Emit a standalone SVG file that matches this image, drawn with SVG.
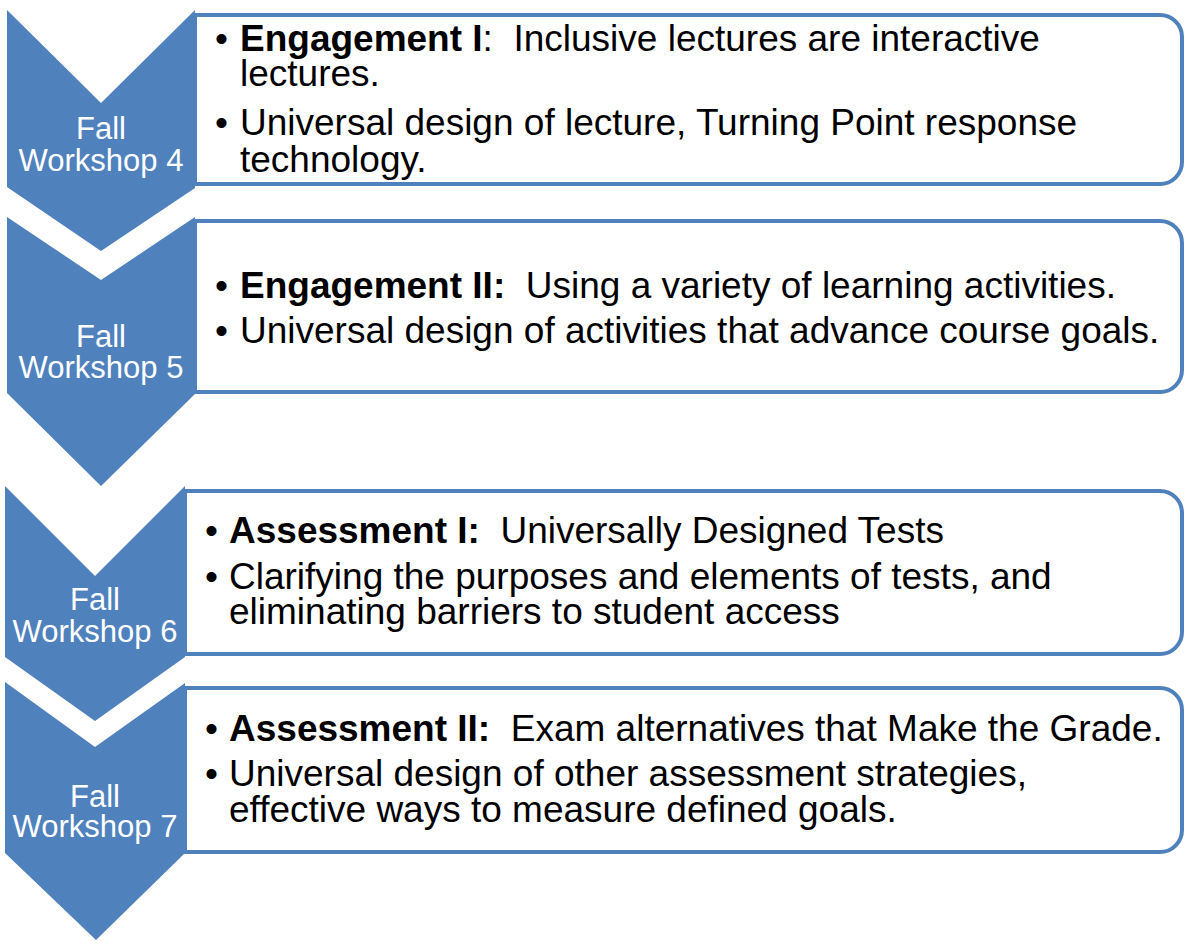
<svg xmlns="http://www.w3.org/2000/svg" width="1184" height="942" viewBox="0 0 1184 942">
<style>
.box{fill:#FFFFFF;stroke:#4F81BD;stroke-width:4}
.chev{fill:#4F81BD;stroke:none}
.lbl{font-family:"Liberation Sans",Arial,sans-serif;font-size:31px;fill:#FFFFFF;text-anchor:middle}
.txt{font-family:"Liberation Sans",Arial,sans-serif;font-size:37px;fill:#000000}
.b{font-weight:bold}
</style>
<rect width="1184" height="942" fill="#FFFFFF"/>
<g id="box1">
<path class="box" d="M195,15 H1160 A22,22 0 0 1 1182,37 V162 A22,22 0 0 1 1160,184 H195 Z"/>
<text class="txt" x="215" y="51" xml:space="preserve">•</text>
<text class="txt" x="240" y="51" xml:space="preserve"><tspan class="b">Engagement I</tspan>:  Inclusive lectures are interactive</text>
<text class="txt" x="240" y="86">lectures.</text>
<text class="txt" x="215" y="135">•</text>
<text class="txt" x="240" y="135">Universal design of lecture, Turning Point response</text>
<text class="txt" x="240" y="172">technology.</text>
</g>
<g id="box2">
<path class="box" d="M195,221 H1160 A22,22 0 0 1 1182,243 V370 A22,22 0 0 1 1160,392 H195 Z"/>
<text class="txt" x="215" y="298">•</text>
<text class="txt" x="240" y="298" xml:space="preserve"><tspan class="b">Engagement II:</tspan>  Using a variety of learning activities.</text>
<text class="txt" x="215" y="343">•</text>
<text class="txt" x="240" y="343">Universal design of activities that advance course goals.</text>
</g>
<g id="box3">
<path class="box" d="M185,491 H1160 A22,22 0 0 1 1182,513 V632 A22,22 0 0 1 1160,654 H185 Z"/>
<text class="txt" x="205" y="543">•</text>
<text class="txt" x="229" y="543" xml:space="preserve"><tspan class="b">Assessment I:</tspan>  Universally Designed Tests</text>
<text class="txt" x="205" y="589">•</text>
<text class="txt" x="229" y="589">Clarifying the purposes and elements of tests, and</text>
<text class="txt" x="229" y="624">eliminating barriers to student access</text>
</g>
<g id="box4">
<path class="box" d="M185,688 H1160 A22,22 0 0 1 1182,710 V830 A22,22 0 0 1 1160,852 H185 Z"/>
<text class="txt" x="205" y="741">•</text>
<text class="txt" x="229" y="741" xml:space="preserve"><tspan class="b">Assessment II:</tspan>  Exam alternatives that Make the Grade.</text>
<text class="txt" x="205" y="786">•</text>
<text class="txt" x="229" y="786">Universal design of other assessment strategies,</text>
<text class="txt" x="229" y="822">effective ways to measure defined goals.</text>
</g>
<g id="chevron1">
<polygon class="chev" points="7,10 101,103 195,10 195,188 101,251 7,187"/>
<text class="lbl" x="101" y="139">Fall</text>
<text class="lbl" x="101" y="171">Workshop 4</text>
</g>
<g id="chevron2">
<polygon class="chev" points="7,217 101,280 195,217 195,394 101,486 7,393"/>
<text class="lbl" x="101" y="347">Fall</text>
<text class="lbl" x="101" y="378">Workshop 5</text>
</g>
<g id="chevron3">
<polygon class="chev" points="5,486 95,576 185,486 185,657 95,721 5,657"/>
<text class="lbl" x="95" y="610">Fall</text>
<text class="lbl" x="95" y="642">Workshop 6</text>
</g>
<g id="chevron4">
<polygon class="chev" points="5,682 95,747 185,683 185,853 96,940 5,853"/>
<text class="lbl" x="95" y="807">Fall</text>
<text class="lbl" x="95" y="837">Workshop 7</text>
</g>
<g id="connectors"></g>
</svg>
